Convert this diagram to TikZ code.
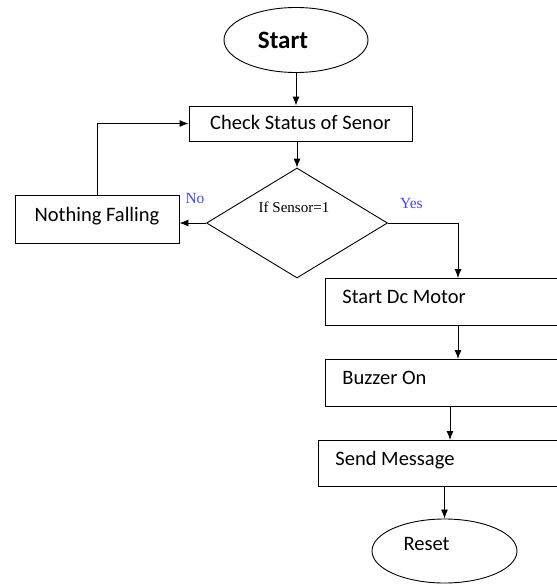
\documentclass[tikz,border=0pt]{standalone}
\usepackage{fontspec}
\setmainfont{Carlito}
\newfontfamily\timesf{Liberation Serif}
\usetikzlibrary{shapes.geometric}
\usetikzlibrary{arrows.meta}
\usetikzlibrary{positioning}
\definecolor{lblblue}{RGB}{70,70,225}

\begin{document}
\begin{tikzpicture}[x=1pt,y=-1pt,
  line width=.9pt,
  term/.style={draw,ellipse,inner sep=0pt,font=\fontsize{20.5}{24}\selectfont},
  proc/.style={draw,rectangle,inner sep=0pt,font=\fontsize{20.5}{24}\selectfont,text height=13pt,text depth=9pt},
  side/.style={proc,anchor=north west,align=flush left,text width=220pt,inner xsep=17pt},
  decision/.style={draw,diamond,inner sep=0pt,minimum width=181pt,minimum height=110pt},
  lbl/.style={text=lblblue,font=\timesf\fontsize{15.5}{18}\selectfont},
  arr/.style={-{Latex[length=9pt,width=7pt]}}]
\useasboundingbox (0,0) rectangle (557,584);
\node[term,minimum width=144pt,minimum height=65pt,
  label={[xshift=-13pt,font=\bfseries\fontsize{25}{30}\selectfont]center:Start}] (start) at (296,40) {};
\node[proc,minimum width=223pt,minimum height=35pt,text height=14pt,text depth=3pt] (check) at (300.5,123.5) {Check Status of Senor};
\node[decision,label={[xshift=-3pt,yshift=16pt,font=\timesf\fontsize{15}{18}\selectfont]center:If Sensor=1}] (dec) at (297,223) {};
\node[proc,minimum width=164pt,minimum height=48pt] (fall) at (97,219) {Nothing Falling};
\node[side,minimum height=47pt] (motor) at (325,278) {Start Dc Motor};
\node[side,minimum height=47pt] (buzzer) at (325,359) {Buzzer On};
\node[side,minimum height=46pt] (send) at (318,440) {Send Message};
\node[term,minimum width=145pt,minimum height=64pt,
  label={[xshift=-18pt,yshift=7pt,font=\fontsize{20.5}{24}\selectfont]center:Reset}] (reset) at (444.5,551) {};
\node[lbl] (nolbl) at (195,198) {No};
\node[lbl] (yeslbl) at (411.5,203.5) {Yes};
\coordinate (yesin) at (458,278);
% connectors
\draw[arr] (start.south) -- (start.south |- check.north);
\draw[arr] (check.south -| dec.north) -- (dec.north);
\draw[arr] (dec.west) -- (dec.west -| fall.east);
\draw[arr] (fall.north) |- (check.west);
\draw[arr] (dec.east) -| (yesin);
\draw[arr] (motor.south -| yesin) -- (buzzer.north -| yesin);
\draw[arr] ([xshift=125pt]buzzer.south west) -- ([xshift=125pt]buzzer.south west |- send.north);
\draw[arr] (send.south -| reset.north) -- (reset.north);
\end{tikzpicture}
\end{document}
